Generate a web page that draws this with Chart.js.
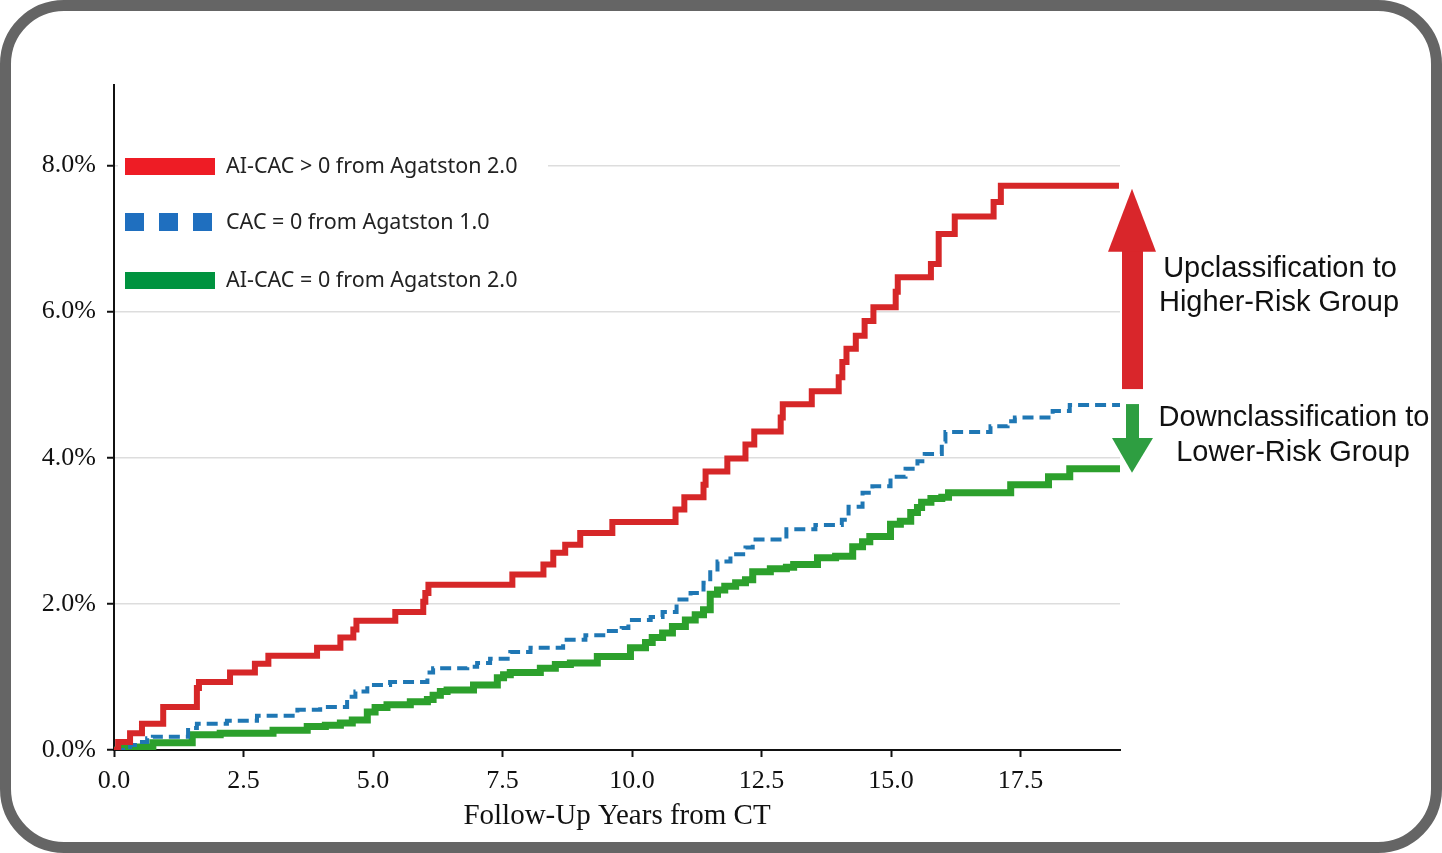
<!DOCTYPE html>
<html>
<head>
    <title>Follow-Up Years from CT</title>
    <style>
        body { margin: 0; background: #fff; }
        #wrap { position: relative; width: 1442px; height: 853px; }
        #frame {
            position: absolute; left: 0; top: 0; width: 1442px; height: 853px;
            box-sizing: border-box; border: 11px solid #656565; border-radius: 64px;
            pointer-events: none;
        }
    </style>
</head>

<body>

    <div id="wrap">
        <canvas id="myChart" width="1442" height="853"></canvas>
        <div id="frame"></div>
    </div>

    <script src="https://cdn.jsdelivr.net/npm/chart.js"></script>

    <script>
        // step times (years) and cumulative event rates (%)
        const redYears   = [0, 0.08, 0.31, 0.54, 0.95, 1.60, 1.64, 2.24, 2.72, 2.98, 3.92, 4.37, 4.62, 4.68, 5.43, 5.97, 6.01, 6.07, 7.69, 8.29, 8.48, 8.71, 9.00, 9.62, 10.84, 11.01, 11.38, 11.42, 11.84, 12.19, 12.36, 12.87, 12.91, 13.47, 13.99, 14.06, 14.14, 14.32, 14.49, 14.66, 15.09, 15.13, 15.77, 15.92, 16.23, 16.98, 17.12, 19.40];
        const redRates   = [0, 0.11, 0.23, 0.36, 0.59, 0.85, 0.93, 1.06, 1.18, 1.29, 1.40, 1.54, 1.65, 1.77, 1.89, 2.03, 2.15, 2.26, 2.40, 2.54, 2.70, 2.81, 2.97, 3.12, 3.29, 3.46, 3.63, 3.81, 3.99, 4.18, 4.36, 4.55, 4.73, 4.91, 5.10, 5.31, 5.49, 5.67, 5.87, 6.06, 6.27, 6.47, 6.65, 7.06, 7.30, 7.50, 7.72, 7.72];

        const blueYears  = [0, 0.31, 0.50, 0.64, 0.75, 1.43, 1.60, 2.18, 2.76, 3.54, 3.98, 4.50, 4.66, 4.89, 5.33, 6.05, 6.16, 6.82, 7.01, 7.26, 7.65, 8.04, 8.67, 9.10, 9.49, 9.80, 9.93, 10.36, 10.59, 10.86, 11.13, 11.38, 11.51, 11.65, 11.90, 12.19, 12.33, 12.98, 13.54, 14.05, 14.18, 14.45, 14.64, 14.99, 15.28, 15.51, 15.65, 15.98, 16.05, 16.92, 17.25, 17.39, 18.12, 18.45, 19.42];
        const blueRates  = [0, 0.07, 0.11, 0.16, 0.18, 0.30, 0.36, 0.40, 0.47, 0.55, 0.59, 0.73, 0.80, 0.89, 0.93, 1.06, 1.12, 1.14, 1.19, 1.25, 1.34, 1.40, 1.51, 1.57, 1.63, 1.67, 1.78, 1.82, 1.89, 2.06, 2.15, 2.29, 2.47, 2.58, 2.68, 2.77, 2.88, 3.02, 3.08, 3.15, 3.33, 3.52, 3.61, 3.74, 3.85, 3.95, 4.05, 4.22, 4.35, 4.43, 4.50, 4.55, 4.64, 4.72, 4.72];

        const greenYears = [0, 0.17, 0.75, 1.51, 2.05, 3.07, 3.73, 4.08, 4.37, 4.60, 4.89, 5.04, 5.27, 5.72, 6.05, 6.16, 6.30, 6.43, 6.94, 7.40, 7.52, 7.65, 8.23, 8.52, 8.81, 9.33, 9.97, 10.26, 10.39, 10.59, 10.78, 11.03, 11.22, 11.38, 11.51, 11.65, 11.79, 12.00, 12.19, 12.33, 12.67, 12.98, 13.12, 13.58, 13.93, 14.26, 14.45, 14.59, 14.99, 15.18, 15.38, 15.51, 15.59, 15.77, 15.98, 16.11, 17.31, 18.04, 18.45, 19.42];
        const greenRates = [0, 0.04, 0.10, 0.21, 0.23, 0.27, 0.32, 0.34, 0.37, 0.41, 0.52, 0.58, 0.62, 0.66, 0.69, 0.75, 0.80, 0.82, 0.89, 0.99, 1.03, 1.06, 1.12, 1.17, 1.19, 1.28, 1.40, 1.47, 1.54, 1.60, 1.69, 1.78, 1.85, 1.92, 2.13, 2.19, 2.24, 2.29, 2.33, 2.44, 2.48, 2.50, 2.54, 2.63, 2.65, 2.78, 2.85, 2.92, 3.09, 3.13, 3.25, 3.32, 3.39, 3.44, 3.46, 3.52, 3.63, 3.74, 3.85, 3.85];

        const seriesLabels = ["AI-CAC > 0 from Agatston 2.0", "CAC = 0 from Agatston 1.0", "AI-CAC = 0 from Agatston 2.0"];
        const xTicks = [0, 2.5, 5, 7.5, 10, 12.5, 15, 17.5];
        const yTicks = [0, 2, 4, 6, 8];

        const toPoints = (xs, ys) => xs.map((x, i) => ({x: x, y: ys[i]}));

        const serif = "'Liberation Serif', 'Times New Roman', serif";

        // legend + classification arrows drawn on top
        const extras = {
            id: "extras",
            afterDraw(chart) {
                const ctx = chart.ctx;
                const area = chart.chartArea;
                const ys = chart.scales.y;
                ctx.save();

                // legend box
                ctx.fillStyle = "#fff";
                ctx.fillRect(area.left + 4, 140, 430, 165);
                const rows = [166, 222, 280];
                ctx.font = "21.5px 'Noto Sans', sans-serif";
                ctx.textBaseline = "middle";
                ctx.textAlign = "left";
                ctx.fillStyle = "#ee1c25";
                ctx.fillRect(125, rows[0] - 8, 90, 17);
                ctx.fillStyle = "#1f6fbf";
                [125, 159, 193].forEach(x => ctx.fillRect(x, rows[1] - 9, 19, 18));
                ctx.fillStyle = "#00933f";
                ctx.fillRect(125, rows[2] - 8, 90, 17);
                ctx.fillStyle = "#222";
                seriesLabels.forEach((t, i) => ctx.fillText(t, 226, rows[i] + 1));

                // arrows between final values
                const redEnd = ys.getPixelForValue(redRates[redRates.length - 1]);
                const blueEnd = ys.getPixelForValue(blueRates[blueRates.length - 1]);
                const greenEnd = ys.getPixelForValue(greenRates[greenRates.length - 1]);
                const ax = area.right + 12;

                ctx.fillStyle = "#d9262b";
                ctx.fillRect(ax - 10, redEnd + 62, 21, blueEnd - 16 - redEnd - 62);
                ctx.beginPath();
                ctx.moveTo(ax - 24, redEnd + 66);
                ctx.lineTo(ax + 24, redEnd + 66);
                ctx.lineTo(ax, redEnd + 3);
                ctx.closePath();
                ctx.fill();

                ctx.fillStyle = "#2e9e41";
                ctx.fillRect(ax - 6, blueEnd - 1, 13, 36);
                ctx.beginPath();
                ctx.moveTo(ax - 20, blueEnd + 33);
                ctx.lineTo(ax + 21, blueEnd + 33);
                ctx.lineTo(ax, greenEnd + 4);
                ctx.closePath();
                ctx.fill();

                ctx.fillStyle = "#111";
                ctx.font = "29px 'Liberation Sans', Arial, sans-serif";
                ctx.textAlign = "center";
                ctx.fillText("Upclassification to", 1280, 269);
                ctx.fillText("Higher-Risk Group", 1279, 303);
                ctx.fillText("Downclassification to", 1294, 418);
                ctx.fillText("Lower-Risk Group", 1293, 453);

                ctx.restore();
            }
        };

        const ctx = document.getElementById("myChart");

        new Chart(ctx, {
            type: "scatter",
            data: {
                datasets: [
                    {
                        label: seriesLabels[0],
                        data: toPoints(redYears, redRates),
                        borderColor: "#d62728",
                        borderWidth: 6,
                        showLine: true,
                        stepped: true,
                        pointRadius: 0,
                    },
                    {
                        label: seriesLabels[1],
                        data: toPoints(blueYears, blueRates),
                        borderColor: "#1f77b4",
                        borderWidth: 4,
                        borderDash: [11, 6],
                        showLine: true,
                        stepped: true,
                        pointRadius: 0,
                    },
                    {
                        label: seriesLabels[2],
                        data: toPoints(greenYears, greenRates),
                        borderColor: "#2ca02c",
                        borderWidth: 7,
                        showLine: true,
                        stepped: true,
                        pointRadius: 0,
                    }
                ]
            },
            options: {
                responsive: false,
                animation: false,
                devicePixelRatio: 1,
                layout: {
                    padding: {left: 0, right: 322, top: 85, bottom: 0}
                },
                scales: {
                    x: {
                        type: "linear",
                        min: 0,
                        max: 19.42,
                        afterFit: s => { s.height = 103; },
                        afterBuildTicks: s => { s.ticks = xTicks.map(v => ({value: v})); },
                        ticks: {
                            color: "#111",
                            padding: 9,
                            font: {family: serif, size: 26},
                            callback: v => v.toFixed(1)
                        },
                        grid: {
                            drawOnChartArea: false,
                            tickLength: 7,
                            tickColor: "#111",
                            tickWidth: 2
                        },
                        border: {display: true, color: "#111", width: 2},
                        title: {
                            display: true,
                            text: "Follow-Up Years from CT",
                            color: "#111",
                            font: {family: serif, size: 29},
                            padding: {top: 0, bottom: 19}
                        }
                    },
                    y: {
                        type: "linear",
                        min: 0,
                        max: 9.1,
                        afterFit: s => { s.width = 114; },
                        afterBuildTicks: s => { s.ticks = yTicks.map(v => ({value: v})); },
                        ticks: {
                            color: "#111",
                            padding: 11,
                            font: {family: serif, size: 26},
                            callback: v => v.toFixed(1) + "%"
                        },
                        grid: {
                            color: ctx => ctx.tick && ctx.tick.value === 0 ? "rgba(0,0,0,0)" : "#dddddd",
                            lineWidth: 1.5,
                            tickLength: 7,
                            tickColor: "#111",
                            tickWidth: 2
                        },
                        border: {display: true, color: "#111", width: 2}
                    }
                },
                plugins: {
                    legend: {display: false},
                    tooltip: {enabled: false}
                }
            },
            plugins: [extras]
        });
    </script>

</body>
</html>
